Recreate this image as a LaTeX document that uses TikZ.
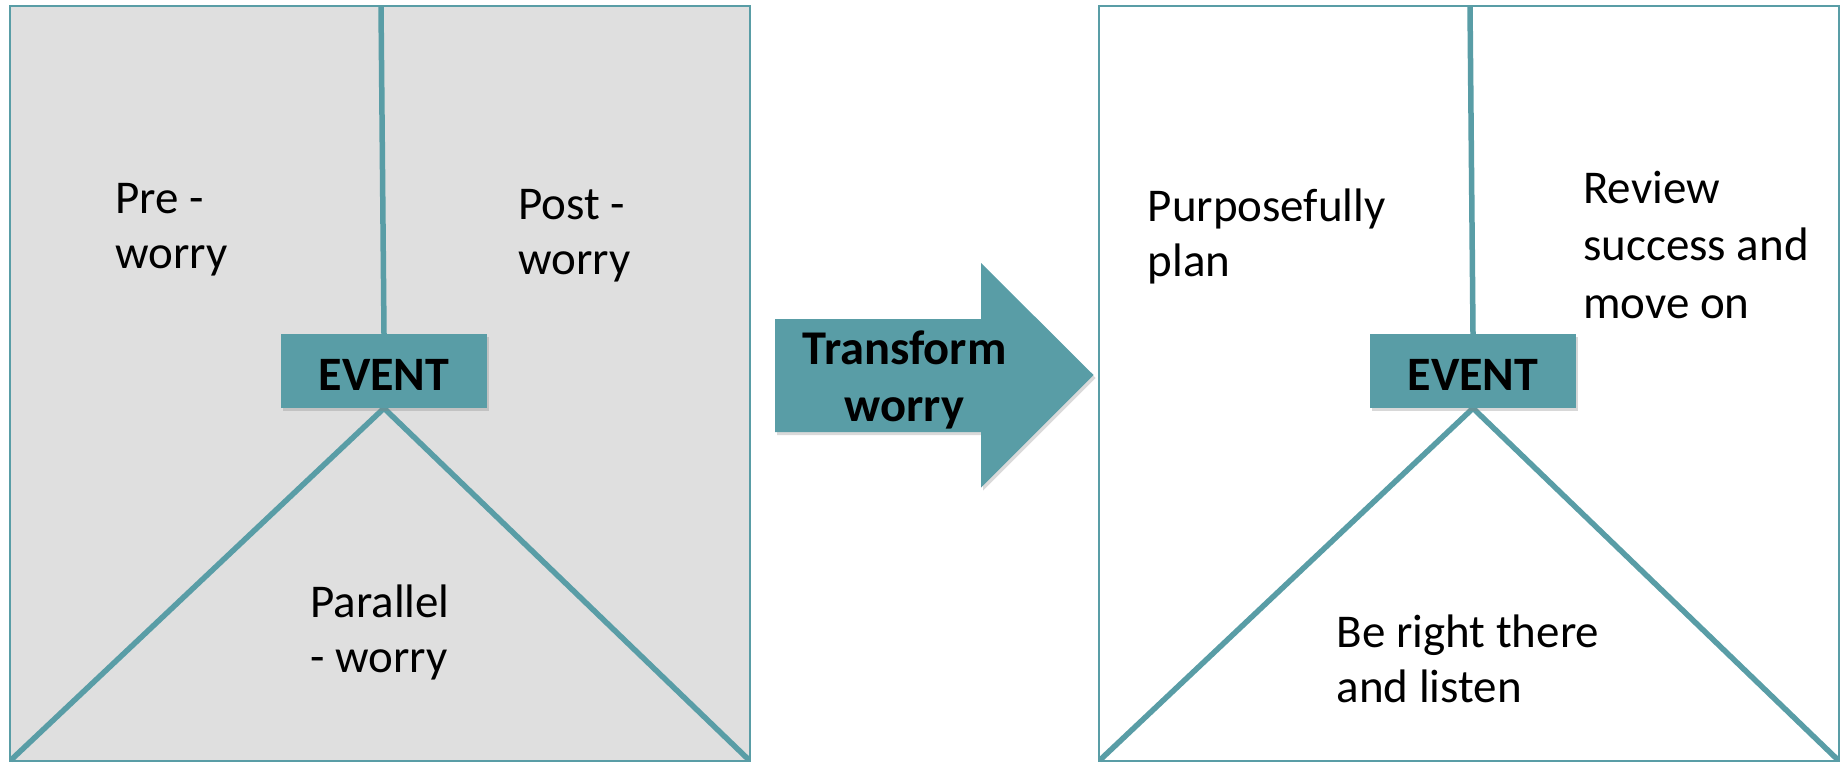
\documentclass[tikz,border=0pt]{standalone}
\usepackage{fontspec}
\setmainfont{Carlito}
\usetikzlibrary{shadows,backgrounds}

\definecolor{eventteal}{RGB}{89,157,166}
\definecolor{worrygray}{RGB}{223,223,223}

\tikzset{
  panelline/.style={draw=eventteal, line width=2pt},
  splitline/.style={draw=eventteal, line width=5.5pt},
  eventbox/.style={fill=eventteal, minimum width=206, minimum height=74,
    text height=38pt, text depth=0pt,
    font=\fontsize{48}{54}\selectfont\bfseries,
    drop shadow={opacity=0.3, shadow xshift=2pt, shadow yshift=-3pt}},
  worrytext/.style={anchor=base west, align=left, font=\fontsize{47}{55}\selectfont},
}

\begin{document}
\begin{tikzpicture}[x=1pt,y=1pt]
\tikzstyle{every node}+=[inner sep=0pt]
\useasboundingbox (0,0) rectangle (1841,-765);
% left panel
\node[eventbox] (leftevent) at (384,-371) {EVENT};
\coordinate (lefttop) at (381,-6);
\coordinate (leftbl) at (11,-760);
\coordinate (leftbr) at (749,-760);
\begin{scope}[on background layer]
\draw [panelline, fill=worrygray] (10,-6) rectangle (750,-761);
\draw [splitline] (lefttop) -- (leftevent.north);
\draw [splitline] (leftbl) -- (leftevent.south) -- (leftbr);
\end{scope}
% the base of a two-line node is its last line
\node[worrytext] (pre) at (115,-268) {Pre -\\worry};
\node[worrytext] (post) at (518,-274) {Post -\\worry};
\node[worrytext] (parallel) at (310,-672) {Parallel\\- worry};
% arrow
\fill [eventteal, drop shadow={opacity=0.3, shadow xshift=2pt, shadow yshift=-3pt}]
  (775,-319) -- (981,-319) -- (981,-263) -- (1093.5,-375) -- (981,-487.5)
  -- (981,-432) -- (775,-432) -- cycle;
\node[anchor=base, align=center, font=\fontsize{48.5}{57.7}\selectfont\bfseries]
  (transform) at (904.5,-421.7) {Transform\\worry};
% right panel
\node[eventbox] (rightevent) at (1473,-371) {EVENT};
\coordinate (righttop) at (1470,-6);
\coordinate (rightbl) at (1100,-760);
\coordinate (rightbr) at (1838,-760);
\begin{scope}[on background layer]
\draw [panelline, fill=white] (1099,-6) rectangle (1839,-761);
\draw [splitline] (righttop) -- (rightevent.north);
\draw [splitline] (rightbl) -- (rightevent.south) -- (rightbr);
\end{scope}
\node[worrytext] (plan) at (1147.5,-276) {Purposefully\\plan};
\node[worrytext, font=\fontsize{47}{57.5}\selectfont] (review) at (1583,-318.3) {Review\\success and\\move on};
\node[worrytext] (listen) at (1336.5,-702) {Be right there\\and listen};
\end{tikzpicture}
\end{document}
